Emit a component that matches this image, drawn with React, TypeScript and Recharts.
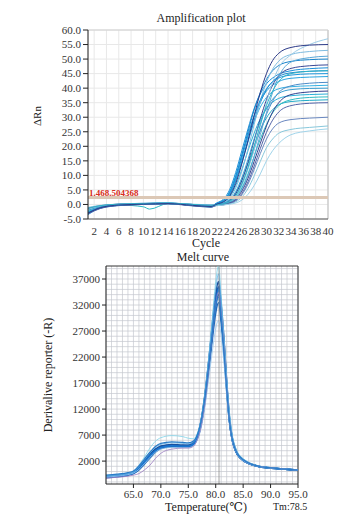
import { LineChart, Line, XAxis, YAxis, CartesianGrid, ReferenceLine } from 'recharts'

// amplification plot: cycle columns, one array per well (NaN = no reading at that column)
const CYCLES = [1, 3, 6, 10, 11, 14, 18, 21, 22, 23, 24, 25, 26, 27, 28, 29, 30, 31, 32, 34, 37, 40]

const AMP_WELLS: number[][] = [
  [-3.5, -1.2, -0.2, 0.2, NaN, 0.4, -0.2, -0.5, 0.6, 1.8, 5.0, 11.0, 18.5, 26.0, 33.0, 38.0, 41.5, 43.5, 44.8, 46.0, 46.7, 47.0],
  [-2.8, -1.0, -0.1, 0.3, NaN, 0.5, -0.1, -0.4, 0.5, 1.5, 4.3, 10.0, 17.0, 24.0, 30.5, 35.5, 39.0, 41.0, 42.3, 43.4, 43.8, 44.0],
  [-2.2, -0.8, 0.0, 0.3, NaN, 0.4, -0.3, -0.6, 0.4, 1.4, 4.0, 9.5, 17.0, 25.0, 32.5, 38.5, 43.0, 46.0, 47.8, 49.2, 49.8, 50.0],
  [-3.0, -1.3, -0.3, 0.1, NaN, 0.3, -0.2, -0.7, 0.3, 1.2, 3.6, 8.5, 15.0, 22.0, 28.5, 33.5, 36.8, 38.8, 39.8, 40.5, 40.8, 41.0],
  [-1.8, -0.6, 0.1, 0.4, NaN, 0.5, 0.0, -0.3, 0.3, 1.0, 3.2, 8.0, 14.5, 21.5, 29.0, 35.0, 39.5, 42.3, 44.0, 45.3, 45.8, 46.0],
  [-2.5, -0.9, -0.2, 0.2, NaN, 0.3, -0.3, -0.8, 0.2, 0.8, 2.5, 6.5, 12.0, 18.5, 24.5, 29.5, 33.0, 35.2, 36.5, 37.4, 37.8, 38.0],
  [-1.5, -0.5, 0.0, 0.3, NaN, 0.4, -0.1, -0.4, 0.1, 0.6, 2.0, 5.6, 11.5, 19.0, 27.5, 35.5, 42.0, 46.5, 49.3, 51.6, 52.6, 53.0],
  [-2.6, -1.1, -0.3, 0.1, NaN, 0.3, -0.4, -0.9, 0.0, 0.4, 1.4, 4.0, 8.5, 14.0, 20.0, 25.5, 29.8, 32.6, 34.3, 35.4, 35.8, 36.0],
  [-1.2, -0.4, 0.1, 0.3, NaN, 0.4, 0.0, -0.2, 0.0, 0.3, 1.2, 3.6, 8.2, 14.5, 22.0, 29.5, 36.0, 41.0, 44.3, 46.8, 47.7, 48.0],
  [-2.0, -0.7, -0.1, 0.2, NaN, 0.4, -0.2, -0.5, -0.1, 0.2, 1.0, 3.0, 7.2, 12.5, 19.0, 25.5, 31.0, 35.5, 38.5, 40.8, 41.7, 42.0],
  [-1.0, -0.3, 0.1, 0.4, NaN, 0.5, 0.1, -0.1, -0.1, 0.2, 0.9, 2.7, 6.5, 12.0, 19.0, 27.0, 35.0, 42.0, 47.0, 51.5, 55.0, 57.0],
  [-2.4, -0.9, -0.2, -0.8, -1.6, 0.3, -0.3, -0.6, -0.2, 0.1, 0.7, 2.3, 5.7, 10.5, 16.5, 22.5, 27.5, 31.5, 34.0, 36.0, 36.8, 37.0],
  [-1.6, -0.6, 0.0, 0.3, NaN, 0.5, 0.0, -0.3, -0.2, 0.1, 0.6, 2.1, 5.3, 10.0, 16.5, 24.0, 31.5, 38.5, 44.0, 49.0, 50.5, 51.0],
  [-2.9, -1.2, -0.3, 0.0, NaN, 0.3, -0.4, -0.8, -0.2, 0.0, 0.5, 1.7, 4.6, 9.0, 14.8, 21.0, 27.0, 31.8, 35.0, 37.8, 38.7, 39.0],
  [-1.4, -0.5, 0.0, 0.2, NaN, 0.4, -0.1, -0.4, -0.3, -0.1, 0.3, 1.2, 3.3, 7.0, 12.0, 17.5, 22.5, 26.0, 28.0, 29.2, 29.7, 30.0],
  [-2.1, -0.8, -0.2, 0.1, NaN, 0.3, -0.3, -0.7, -0.3, -0.1, 0.2, 0.9, 2.5, 5.5, 9.8, 14.8, 19.5, 22.5, 24.5, 25.8, 26.5, 27.0],
  [-3.2, -1.4, -0.4, 0.0, NaN, 0.2, -0.5, -0.9, -0.3, -0.1, 0.4, 1.4, 3.8, 7.8, 13.2, 19.2, 24.8, 29.0, 31.8, 34.0, 34.8, 35.0],
  [-1.8, -0.7, -0.1, 0.2, NaN, 0.4, -0.2, -0.5, -0.4, -0.2, 0.1, 0.5, 1.5, 3.5, 6.5, 10.5, 15.0, 18.5, 21.0, 24.0, 25.3, 26.0],
  [-2.7, -1.0, -0.2, 0.2, NaN, 0.4, -0.2, -0.6, 0.4, 1.3, 3.8, 9.0, 16.0, 23.5, 30.5, 36.0, 39.8, 42.2, 43.5, 44.5, 44.9, 45.0],
  [-2.0, -0.8, -0.1, 0.2, NaN, 0.3, -0.2, -0.6, 0.0, 0.5, 1.6, 4.4, 9.2, 15.5, 22.5, 28.5, 33.0, 36.2, 38.2, 39.5, 39.9, 40.0],
  [-1.3, -0.4, 0.1, 0.3, NaN, 0.5, 0.0, -0.3, -0.1, 0.2, 1.0, 3.0, 7.0, 12.8, 20.0, 27.5, 34.0, 39.0, 42.3, 45.0, 45.8, 46.0],
  [-3.0, -1.1, -0.2, 0.1, NaN, 0.3, -0.3, -0.7, 0.2, 0.9, 2.8, 7.2, 14.0, 22.0, 30.5, 38.5, 45.0, 49.5, 52.0, 54.0, 54.8, 55.0],
]

const AMP_COLORS = [
  '#1a8fd8', '#2aa4e0', '#1784cc', '#34b0e4', '#1f8ad0', '#2ab0d8', '#7fbce0', '#20aac8', '#3a4896', '#4d8cc8', '#9ccbe6',
  '#2fbcc4', '#5aa8d8', '#33408e', '#6a88c0', '#88c8dc', '#5264a8', '#a0d4ea', '#1c96dc', '#3b9ed0', '#30b4c8', '#2c3a88',
]

const AMP_Y_TICKS = [-5, 0, 5, 10, 15, 20, 25, 30, 35, 40, 45, 50, 55, 60]
const AMP_X_TICKS = [2, 4, 6, 8, 10, 12, 14, 16, 18, 20, 22, 24, 26, 28, 30, 32, 34, 36, 38, 40]
const THRESHOLD = 2.4
const THRESHOLD_LABEL = '1.468.504368'

// melt curve: temperature columns, one array per well
const TEMPS = [60, 62, 64, 65, 66, 67, 68, 69, 70, 72, 74, 75, 76, 76.5, 77, 77.5, 78, 78.5, 79, 79.5, 80, 80.5, 81, 81.5, 82, 82.5, 83, 83.5, 84, 85, 86, 88, 91, 95]

const MELT_WELLS: number[][] = [
  [-1000, -800, -500, -200, 700, 1900, 3100, 4100, 4700, 5000, 4900, 4900, 5400, 6300, 7900, 10500, 14000, 18500, 23500, 28500, 33000, 35500, 31000, 24500, 16500, 10000, 6300, 4400, 3300, 2200, 1600, 950, 600, 250],
  [-1100, -900, -600, -300, 500, 1700, 2900, 3900, 4500, 4800, 4700, 4700, 5200, 6000, 7600, 10000, 13500, 18000, 22800, 27500, 31800, 34000, 30000, 23500, 16000, 9800, 6200, 4300, 3200, 2150, 1550, 920, 580, 230],
  [-900, -700, -400, -100, 800, 2100, 3300, 4300, 4900, 5200, 5100, 5100, 5600, 6500, 8100, 10800, 14500, 19000, 24000, 29500, 34200, 36500, 32000, 25500, 17200, 10400, 6500, 4600, 3400, 2300, 1650, 980, 620, 260],
  [-1200, -1000, -700, -400, 300, 1400, 2600, 3700, 4400, 4800, 4800, 4800, 5200, 6000, 7400, 9800, 13000, 17200, 21800, 26500, 30500, 32500, 28500, 22500, 15500, 9600, 6100, 4300, 3200, 2150, 1550, 930, 590, 240],
  [-1000, -850, -550, -250, 600, 1800, 3000, 4000, 4600, 4950, 4850, 4850, 5350, 6200, 7800, 10300, 13800, 18300, 23200, 28000, 32500, 35000, 30500, 24000, 16300, 9900, 6300, 4400, 3300, 2200, 1600, 950, 600, 250],
  [-800, -600, -300, 0, 1200, 2800, 4500, 5800, 6500, 6900, 6700, 6400, 6300, 7000, 8500, 11000, 14800, 19500, 25000, 31000, 36500, 39500, 33500, 26000, 18000, 11500, 7200, 5000, 3700, 2500, 1800, 1050, 650, 300],
  [-900, -700, -400, -100, 900, 2200, 3500, 4600, 5200, 5500, 5400, 5300, 5700, 6600, 8200, 10900, 14600, 19200, 24500, 30000, 35000, 38000, 32500, 25500, 17500, 11000, 6900, 4800, 3500, 2350, 1700, 1000, 640, 270],
  [-1100, -900, -600, -300, 400, 1500, 2700, 3700, 4300, 4600, 4600, 4600, 5000, 5700, 7000, 9200, 12200, 16000, 20000, 24000, 27500, 29000, 26000, 21000, 14500, 9300, 6000, 4200, 3200, 2100, 1500, 900, 560, 230],
  [-1300, -1100, -900, -700, -400, 300, 1200, 2500, 3500, 4300, 4500, 4500, 4900, 5800, 7200, 9600, 13000, 17500, 22500, 27500, 32000, 34500, 30500, 24000, 16500, 10000, 6400, 4500, 3400, 2250, 1650, 980, 620, 260],
  [-700, -500, -200, 100, 1100, 2400, 3700, 4800, 5400, 5700, 5600, 5500, 5900, 6700, 8200, 10600, 14000, 18400, 23000, 27800, 31800, 33500, 29500, 23200, 15900, 9800, 6300, 4450, 3350, 2250, 1650, 970, 620, 260],
]

const MELT_COLORS = ['#1660b8', '#0d5aa7', '#1a4f9c', '#2068b8', '#1976d2', '#7fd3e8', '#5fb0e8', '#9cc9ee', '#9a7cc0', '#2a7cc8']
const MELT_WIDTHS = [1.8, 1.6, 1.6, 1.5, 1.6, 0.8, 0.8, 0.8, 0.8, 1.2]

const MELT_Y_TICKS = [2000, 7000, 12000, 17000, 22000, 27000, 32000, 37000]
const MELT_X_TICKS = [65, 70, 75, 80, 85, 90, 95]
const TM_LINE = 80.6

const FONT = 'Liberation Serif, DejaVu Serif, serif'

const ampData = CYCLES.map((c, i) => {
  const row: Record<string, number | null> = { c }
  AMP_WELLS.forEach((w, k) => {
    row[`w${k}`] = Number.isNaN(w[i]) ? null : w[i]
  })
  return row
})

const meltData = TEMPS.map((t, i) => {
  const row: Record<string, number> = { t }
  MELT_WELLS.forEach((w, k) => {
    row[`m${k}`] = w[i]
  })
  return row
})

const gridX: number[] = []
for (let v = 60; v <= 95; v += 1) gridX.push(v)
const gridY: number[] = []
for (let v = -2000; v <= 39000; v += 1000) gridY.push(v)

const fixed1 = (v: number) => Number(v).toFixed(1)
const plain = (v: number) => String(v)

const tickTextStyle = { fontFamily: FONT, fontSize: 11, fill: '#333' }

function xTick(fmt: (v: number) => string) {
  return (p: any) => (
    <text x={p.x} y={p.y} dy="0.75em" textAnchor="middle" style={tickTextStyle}>
      {fmt(p.payload.value)}
    </text>
  )
}

function yTick(fmt: (v: number) => string) {
  return (p: any) => (
    <text x={p.x} y={p.y} dy="0.35em" textAnchor="end" style={tickTextStyle}>
      {fmt(p.payload.value)}
    </text>
  )
}

function AmplificationPlot() {
  return (
    <LineChart width={352} height={250} data={ampData} margin={{ top: 30, right: 24, bottom: 0, left: 0 }}>
      <CartesianGrid stroke="#e8e8e8" />
      <XAxis
        dataKey="c"
        type="number"
        domain={[1, 40]}
        ticks={AMP_X_TICKS}
        interval={0}
        height={31}
        tickLine={false}
        axisLine={{ stroke: '#555' }}
        tick={xTick(plain)}
      />
      <YAxis
        type="number"
        domain={[-5, 60]}
        ticks={AMP_Y_TICKS}
        interval={0}
        width={88}
        tickSize={5}
        tickLine={{ stroke: '#222' }}
        axisLine={{ stroke: '#222' }}
        tick={yTick(fixed1)}
      />
      <ReferenceLine x={40} stroke="#bdbdbd" />
      <ReferenceLine y={60} stroke="#d0d0d0" />
      {AMP_WELLS.map((_, k) => (
        <Line
          key={k}
          dataKey={`w${k}`}
          type="monotone"
          stroke={AMP_COLORS[k]}
          strokeWidth={1}
          dot={false}
          connectNulls
          isAnimationActive={false}
        />
      ))}
      <ReferenceLine
        y={THRESHOLD}
        stroke="#dcc8b6"
        strokeWidth={3}
        label={{
          value: THRESHOLD_LABEL,
          position: 'insideBottomLeft',
          offset: 1,
          fill: '#d62d20',
          fontSize: 9,
          fontWeight: 'bold',
        }}
      />
    </LineChart>
  )
}

function MeltCurve() {
  return (
    <LineChart width={352} height={269} data={meltData} margin={{ top: 16, right: 54, bottom: 0, left: 0 }}>
      <CartesianGrid stroke="#c4c7ce" strokeWidth={0.7} verticalValues={gridX} horizontalValues={gridY} />
      <XAxis
        dataKey="t"
        type="number"
        domain={[60, 95]}
        ticks={MELT_X_TICKS}
        interval={0}
        height={35}
        tickSize={4}
        tickLine={{ stroke: '#222' }}
        axisLine={{ stroke: '#222' }}
        tick={xTick(fixed1)}
      />
      <YAxis
        type="number"
        domain={[-2400, 39500]}
        ticks={MELT_Y_TICKS}
        interval={0}
        width={106}
        tickSize={4}
        tickLine={{ stroke: '#222' }}
        axisLine={{ stroke: '#222' }}
        tick={yTick(plain)}
      />
      <ReferenceLine x={95} stroke="#333" />
      <ReferenceLine y={39500} stroke="#333" />
      {MELT_WELLS.map((_, k) => (
        <Line
          key={k}
          dataKey={`m${k}`}
          type="monotone"
          stroke={MELT_COLORS[k]}
          strokeWidth={MELT_WIDTHS[k]}
          dot={false}
          isAnimationActive={false}
        />
      ))}
      <ReferenceLine x={TM_LINE} stroke="#8a8a8a" strokeWidth={0.8} />
    </LineChart>
  )
}

const abs = (left: number, top: number, extra: React.CSSProperties = {}): React.CSSProperties => ({
  position: 'absolute',
  left,
  top,
  whiteSpace: 'nowrap',
  lineHeight: 1,
  color: '#222',
  ...extra,
})

export default function App() {
  return (
    <div style={{ position: 'absolute', left: 0, top: 0, width: 352, height: 519, background: '#fff', fontFamily: FONT }}>
      <div style={{ position: 'absolute', left: 0, top: 0 }}>
        <AmplificationPlot />
      </div>
      <div style={{ position: 'absolute', left: 0, top: 250 }}>
        <MeltCurve />
      </div>
      <div style={abs(0, 12, { width: 402, textAlign: 'center', fontSize: 12 })}>Amplification plot</div>
      <div style={abs(0, 237, { width: 412, textAlign: 'center', fontSize: 12 })}>Cycle</div>
      <div style={abs(37, 116, { fontSize: 11, transform: 'translate(-50%, -50%) rotate(-90deg)' })}>ΔRn</div>
      <div style={abs(0, 251, { width: 406, textAlign: 'center', fontSize: 12 })}>Melt curve</div>
      <div style={abs(48, 375, { fontSize: 12, transform: 'translate(-50%, -50%) rotate(-90deg)' })}>
        Derivalive reporter (-R)
      </div>
      <div style={abs(0, 501, { width: 412, textAlign: 'center', fontSize: 12 })}>Temperature(℃)</div>
      <div style={abs(273, 502, { fontSize: 10 })}>Tm:78.5</div>
    </div>
  )
}
